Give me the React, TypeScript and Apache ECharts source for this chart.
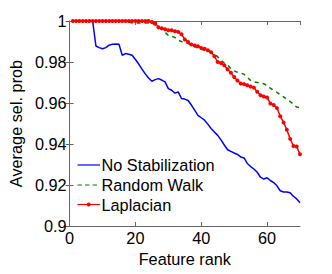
import React, { useEffect, useRef } from "react";
import * as echarts from "echarts";

const ranks: number[] = Array.from({ length: 70 }, (_, i) => i + 1);

const noStabilization: number[] = [
  1, 1, 1, 1, 1, 1, 1, 0.9878, 0.987, 0.9865,
  0.987, 0.9882, 0.9887, 0.9888, 0.9887, 0.9833, 0.9841, 0.9838, 0.9833, 0.9812,
  0.979, 0.9765, 0.9742, 0.9722, 0.9706, 0.9714, 0.9719, 0.9712, 0.9703, 0.967,
  0.9662, 0.9648, 0.9654, 0.9622, 0.9619, 0.9612, 0.959, 0.9565, 0.954, 0.9528,
  0.9516, 0.9497, 0.9476, 0.9458, 0.9442, 0.942, 0.9395, 0.9372, 0.9364, 0.9356,
  0.9349, 0.9337, 0.9332, 0.9305, 0.929, 0.9278, 0.9262, 0.9238, 0.9229, 0.9235,
  0.9222, 0.9212, 0.9196, 0.9172, 0.9166, 0.9166, 0.9162, 0.9145, 0.9132, 0.9114,
];

const randomWalk: number[] = [
  1, 1, 1, 1, 1, 1, 1, 1, 1, 1,
  1, 1, 1, 1, 1, 1, 1, 0.9995, 0.999, 0.999,
  0.999, 0.999, 0.999, 0.999, 0.999, 0.998, 0.997, 0.996, 0.9945, 0.993,
  0.9925, 0.992, 0.9906, 0.99, 0.9895, 0.989, 0.9882, 0.9875, 0.9868, 0.9862,
  0.9857, 0.9852, 0.9846, 0.984, 0.9825, 0.9808, 0.9795, 0.9785, 0.9768, 0.9757,
  0.975, 0.9746, 0.974, 0.9725, 0.971, 0.9703, 0.97, 0.9697, 0.9694, 0.9685,
  0.9672, 0.9662, 0.9652, 0.9641, 0.963, 0.9618, 0.9607, 0.9595, 0.958, 0.9577,
];

const laplacian: number[] = [
  1, 1, 1, 1, 1, 1, 1, 1, 1, 1,
  1, 1, 1, 1, 1, 1, 1, 1, 1, 1,
  1, 1, 1, 1, 0.9995, 0.999, 0.997, 0.9965, 0.996, 0.9955,
  0.9955, 0.995, 0.9947, 0.9935, 0.991, 0.9898, 0.9885, 0.988, 0.9877, 0.9868,
  0.9865, 0.9857, 0.9848, 0.9828, 0.98, 0.9795, 0.9784, 0.9765, 0.9748, 0.9727,
  0.971, 0.9695, 0.9692, 0.9687, 0.968, 0.9675, 0.9655, 0.9638, 0.9632, 0.9627,
  0.9598, 0.959, 0.9575, 0.9535, 0.9505, 0.947, 0.9425, 0.939, 0.9388, 0.935,
];

const seriesNames: string[] = ["No Stabilization", "Random Walk", "Laplacian"];
const seriesColors: string[] = ["#0000ff", "#008000", "#ff0000"];
const xTicks: number[] = [0, 20, 40, 60];

const FONT = "Liberation Sans, Arial, Helvetica, sans-serif";
const AXIS_COLOR = "#666666";
const FS = 16.3;

export default function App() {
  const ref = useRef<HTMLDivElement>(null);
  useEffect(() => {
    if (!ref.current) return;
    const chart = echarts.init(ref.current, undefined, { renderer: "svg" });
    const pair = (ys: number[]) => ranks.map((x, i) => [x, ys[i]]);
    const axisCommon = {
      axisLine: { show: true, lineStyle: { color: AXIS_COLOR, width: 1 } },
      axisTick: { show: true, inside: true, length: 4, lineStyle: { color: AXIS_COLOR } },
      splitLine: { show: false },
    };

    const legendItems: any[] = [];
    const legendY = [165, 185, 204.5];
    seriesNames.forEach((name, i) => {
      legendItems.push({
        type: "line",
        shape: { x1: 77.5, y1: legendY[i], x2: 100, y2: legendY[i] },
        style: {
          stroke: seriesColors[i],
          lineWidth: 1.2,
          lineDash: i === 1 ? [4.5, 3] : null,
        },
        z: 10,
      });
      if (i === 2) {
        legendItems.push({
          type: "circle",
          shape: { cx: 88.7, cy: legendY[i], r: 2 },
          style: { fill: seriesColors[i] },
          z: 11,
        });
      }
      legendItems.push({
        type: "text",
        x: 101.5,
        y: legendY[i],
        style: {
          text: name,
          fill: "#000",
          fontSize: FS,
          fontFamily: FONT,
          verticalAlign: "middle",
          align: "left",
        },
        z: 10,
      });
    });

    chart.setOption({
      animation: false,
      textStyle: { fontFamily: FONT },
      grid: { left: 65, right: 32, top: 21, bottom: 48 },
      graphic: legendItems,
      xAxis: [
        {
          type: "value",
          min: 0,
          max: 70,
          interval: 20,
          name: "Feature rank",
          nameLocation: "middle",
          nameGap: 24,
          nameTextStyle: { fontSize: FS, color: "#000", fontFamily: FONT },
          axisLabel: { fontSize: FS, color: "#000", margin: 4, fontFamily: FONT, customValues: xTicks },
          axisTick: { show: true, inside: true, length: 4, lineStyle: { color: AXIS_COLOR }, customValues: xTicks },
          axisLine: { show: true, lineStyle: { color: AXIS_COLOR, width: 1 } },
          splitLine: { show: false },
        },
        {
          type: "value",
          position: "top",
          min: 0,
          max: 70,
          interval: 20,
          ...axisCommon,
          axisLabel: { show: false },
        },
      ],
      yAxis: [
        {
          type: "value",
          min: 0.9,
          max: 1,
          interval: 0.02,
          name: "Average sel. prob",
          nameLocation: "middle",
          nameGap: 40,
          nameTextStyle: { fontSize: FS, color: "#000", fontFamily: FONT },
          ...axisCommon,
          axisLabel: {
            fontSize: FS,
            color: "#000",
            margin: 3,
            fontFamily: FONT,
            formatter: (v: number) => String(+v.toFixed(2)),
          },
        },
        {
          type: "value",
          position: "right",
          min: 0.9,
          max: 1,
          interval: 0.02,
          ...axisCommon,
          axisLabel: { show: false },
        },
      ],
      series: [
        {
          name: seriesNames[0],
          type: "line",
          data: pair(noStabilization),
          showSymbol: false,
          symbol: "none",
          lineStyle: { color: seriesColors[0], width: 1.5 },
          itemStyle: { color: seriesColors[0] },
          z: 2,
        },
        {
          name: seriesNames[1],
          type: "line",
          data: pair(randomWalk),
          symbol: "none",
          lineStyle: { color: seriesColors[1], width: 1.5, type: [4, 4] },
          itemStyle: { color: seriesColors[1] },
          z: 3,
        },
        {
          name: seriesNames[2],
          type: "line",
          data: pair(laplacian),
          symbol: "circle",
          symbolSize: 4,
          lineStyle: { color: seriesColors[2], width: 1.5 },
          itemStyle: { color: seriesColors[2] },
          z: 4,
        },
      ],
    });
    return () => chart.dispose();
  }, []);
  return (
    <div
      ref={ref}
      style={{ position: "absolute", left: 0, top: 0, width: 332, height: 274, background: "#fff" }}
    />
  );
}
